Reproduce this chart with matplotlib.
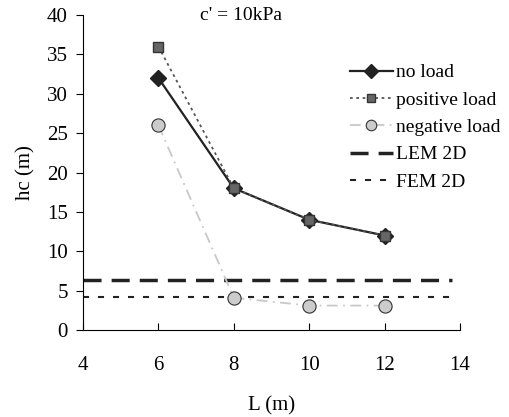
import matplotlib
matplotlib.use('Agg')
import matplotlib.pyplot as plt

L = [6, 8, 10, 12]
no_load = [32, 18, 14, 12]
positive_load = [36, 18, 14, 12]
negative_load = [26, 4.1, 3.1, 3.1]
lem_2d = 6.35
fem_2d = 4.15

plt.rcParams['font.family'] = ['Liberation Serif', 'DejaVu Serif']

fig = plt.figure(figsize=(5.1, 4.17), dpi=100)
ax = fig.add_axes([83 / 510, 1 - 330 / 417, (460 - 83) / 510, (330 - 15) / 417])

ax.plot(L, no_load, color='#222222', lw=1.6, marker='D', ms=8.5,
        mfc='#222222', mec='#222222', label='no load', zorder=3)
ax.plot(L, positive_load, color='#555555', lw=1.3, ls=(0, (1.5, 2)), marker='s', ms=7.5,
        mfc='#666666', mec='#333333', label='positive load', zorder=4)
ax.plot(L, negative_load, color='#c8c8c8', lw=1.3, ls=(0, (6, 3, 1, 3)), marker='o', ms=9.5,
        mfc='#cccccc', mec='#333333', mew=0.8, label='negative load', zorder=3)
ax.plot([4, 13.8], [lem_2d, lem_2d], color='#222222', lw=2.5, ls=(0, (5.2, 2.9)), label='LEM 2D')
ax.plot([4, 13.8], [fem_2d, fem_2d], color='#222222', lw=1.5, ls=(0, (2.9, 4.3)), label='FEM 2D')

ax.set_xlim(4, 14)
ax.set_ylim(0, 40)
ax.set_xticks(range(4, 15, 2))
ax.set_yticks(range(0, 41, 5))
ax.spines['top'].set_visible(False)
ax.spines['right'].set_visible(False)
ax.tick_params(axis='x', direction='in', length=5, labelsize=15, pad=19)
ax.tick_params(axis='y', direction='out', length=5, labelsize=15, pad=6)
ax.set_xlabel('L (m)', fontsize=15, labelpad=15)
ax.set_ylabel('hc (m)', fontsize=15, labelpad=8)
ax.text(8.2, 40, "c' = 10kPa", fontsize=14, ha='center', va='center')

ax.legend(loc='upper left', bbox_to_anchor=(0.687, 0.87), frameon=False,
          fontsize=14, handlelength=2.2, handletextpad=0.2, labelspacing=0.5,
          borderaxespad=0, markerscale=0.8)

fig.savefig('out.png', dpi=100)
